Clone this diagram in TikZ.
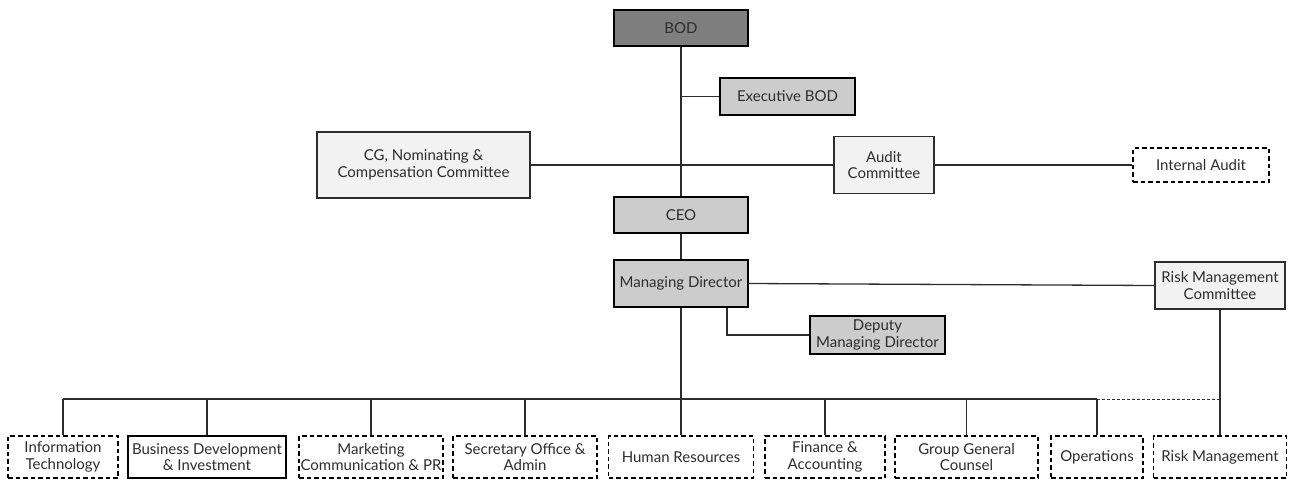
\documentclass[tikz,border=0pt]{standalone}
\usepackage{fontspec}
\setmainfont{Lato}
\usetikzlibrary{positioning,calc}
\definecolor{boddark}{RGB}{127,127,127}
\definecolor{midgray}{RGB}{204,204,204}
\definecolor{paleface}{RGB}{242,242,242}
\definecolor{inkgray}{RGB}{45,45,45}

\begin{document}
\begin{tikzpicture}[x=1pt, y=-1pt,
    box/.style={draw=black, line width=1.3pt, inner sep=0pt, align=center,
      font=\fontsize{15}{16.5}\selectfont, text=inkgray},
    topbox/.style={box, fill=boddark},
    midbox/.style={box, fill=midgray},
    palebox/.style={box, fill=paleface, draw=inkgray},
    dashbox/.style={box, dash pattern=on 4.5pt off 3pt, fill=white},
    deptbox/.style={dashbox, minimum height=42pt},
    link/.style={line width=1.3pt, draw=inkgray}]
  \useasboundingbox (0,0) rectangle (1291,480);

  % board level
  \node[topbox, minimum width=134pt, minimum height=36pt] (bod) at (681,28) {BOD};
  \node[midbox, minimum width=135pt, minimum height=37pt] (exec) at (787.5,96.5) {Executive BOD};
  \node[palebox, minimum width=213pt, minimum height=66pt] (cgnc) at (423.5,165) {CG, Nominating \&\\Compensation Committee};
  \node[palebox, minimum width=100pt, minimum height=57pt] (audit) at (884,165) {Audit\\Committee};
  \node[dashbox, minimum width=136pt, minimum height=34pt] (iaudit) at (1201,165) {Internal Audit};

  % management
  \node[midbox, minimum width=134pt, minimum height=36pt] (ceo) at (681,215) {CEO};
  \node[midbox, minimum width=134pt, minimum height=47pt] (md) at (681,283.5) {Managing Director};
  \node[midbox, minimum width=135pt, minimum height=38pt] (dmd) at (877.5,335) {Deputy\\Managing Director};
  \node[palebox, minimum width=130pt, minimum height=47pt] (rmc) at (1220,285.5) {Risk Management\\Committee};

  % departments
  \node[deptbox, minimum width=110pt] (it) at (63,457) {Information\\Technology};
  \node[box, minimum height=42pt, minimum width=158pt] (bdi) at (207,457) {Business Development\\\& Investment};
  \node[deptbox, minimum width=144pt] (mcpr) at (371,457) {Marketing\\Communication \& PR};
  \node[deptbox, minimum width=144pt] (soa) at (525,457) {Secretary Office \&\\Admin};
  \node[deptbox, minimum width=145pt] (hr) at (681,457) {Human Resources};
  \node[deptbox, minimum width=120pt] (fa) at (825,457) {Finance \&\\Accounting};
  \node[deptbox, minimum width=143pt] (ggc) at (966.5,457) {Group General\\Counsel};
  \node[deptbox, minimum width=92pt] (ops) at (1097,457) {Operations};
  \node[deptbox, minimum width=133pt] (rm) at (1220,457) {Risk Management};

  \coordinate (busL) at (63,399);
  \coordinate (busR) at (1097,399);
  \coordinate (busRM) at (1220,399);

  % connectors
  \draw[link] (bod.south) -- (ceo.north);
  \draw[link] (exec.west) -- (exec.west -| bod.south);
  \draw[link] (cgnc.east) -- (audit.west);
  \draw[link] (audit.east) -- (iaudit.west);
  \draw[link] (ceo.south) -- (md.north);
  \draw[link] (md.east) -- (rmc.west);
  \draw[link] ([xshift=46pt]md.south) |- (dmd.west);
  \draw[link] (md.south) -- (md.south |- busL);
  \draw[link] (busL) -- (busR);
  \draw[link, dash pattern=on 3pt off 2pt, line width=1pt] (busR) -- (busRM);
  \draw[link] (rmc.south) -- (rm.north);
  \foreach \dept in {it,bdi,mcpr,soa,hr,fa,ggc,ops}
    \draw[link] (\dept.north) -- (\dept.north |- busL);
\end{tikzpicture}
\end{document}
